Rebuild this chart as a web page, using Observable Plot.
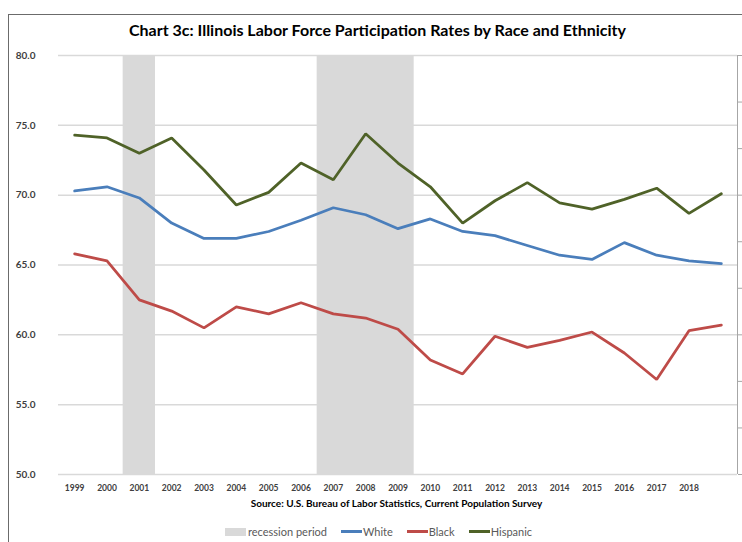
<!DOCTYPE html>
<html>
<head>
<meta charset="utf-8">
<script src="https://cdn.jsdelivr.net/npm/d3@7"></script>
<script src="https://cdn.jsdelivr.net/npm/@observablehq/plot@0.6"></script>
<style>
  html, body { margin: 0; padding: 0; background: #fff; }
  #wrap { position: relative; width: 742px; height: 542px; overflow: hidden; font-family: Lato, "Open Sans", sans-serif; }
  #frame { position: absolute; left: 8px; top: 14px; width: 800px; height: 600px; border-left: 1px solid #6b6b6b; border-top: 1px solid #6b6b6b; }
  #title { position: absolute; left: 0; width: 755px; top: 20px; text-align: center; font-weight: 700; font-size: 16px; color: #000; white-space: nowrap; }
  #chart { position: absolute; left: 0; top: 0; }
  #source { position: absolute; left: 0; width: 793px; top: 497px; text-align: center; font-weight: 700; font-size: 10px; color: #000; white-space: nowrap; }
  #legend { position: absolute; left: 225px; top: 525px; display: flex; align-items: center; font-size: 11px; color: #595959; white-space: nowrap; }
  .sw { display: inline-block; width: 21px; height: 8px; background: #d9d9d9; margin-right: 2px; }
  .ln { display: inline-block; width: 21px; height: 2.5px; margin-right: 1px; }
  .it { display: inline-flex; align-items: center; margin-right: 14px; }
</style>
</head>
<body>
<div id="wrap">
  <div id="frame"></div>
  <div id="chart"></div>
  <div id="title">Chart 3c: Illinois Labor Force Participation Rates by Race and Ethnicity</div>
  <div id="source">Source: U.S. Bureau of Labor Statistics, Current Population Survey</div>
  <div id="legend"></div>
</div>
<script>
// ---- data ----
const years = [1999, 2000, 2001, 2002, 2003, 2004, 2005, 2006, 2007, 2008, 2009,
               2010, 2011, 2012, 2013, 2014, 2015, 2016, 2017, 2018, 2019];
const white    = [70.3, 70.6, 69.8, 68.0, 66.9, 66.9, 67.4, 68.2, 69.1, 68.6, 67.6,
                  68.3, 67.4, 67.1, 66.4, 65.7, 65.4, 66.6, 65.7, 65.3, 65.1];
const black    = [65.8, 65.3, 62.5, 61.7, 60.5, 62.0, 61.5, 62.3, 61.5, 61.2, 60.4,
                  58.2, 57.2, 59.9, 59.1, 59.6, 60.2, 58.7, 56.8, 60.3, 60.7];
const hispanic = [74.3, 74.1, 73.0, 74.1, 71.8, 69.3, 70.2, 72.3, 71.1, 74.4, 72.3,
                  70.6, 68.0, 69.6, 70.9, 69.45, 69.0, 69.7, 70.5, 68.7, 70.1];
const seriesNames = ["White", "Black", "Hispanic"];
const seriesColors = ["#4a7ebb", "#be4b48", "#4f6228"];
const xTickLabels = [1999, 2000, 2001, 2002, 2003, 2004, 2005, 2006, 2007, 2008, 2009,
                     2010, 2011, 2012, 2013, 2014, 2015, 2016, 2017, 2018];
const yTicks = [50, 55, 60, 65, 70, 75, 80];
const recessionStart = [2001, 2007];
const recessionEnd   = [2001, 2009];
// secondary (right) axis for the recession bars: 0 .. 0.9 in steps of 0.1
const rightTicks = [0, 0.1, 0.2, 0.3, 0.4, 0.5, 0.6, 0.7, 0.8, 0.9];
const rightDomain = [0, 0.9];

// ---- build tables ----
const valuesBySeries = [white, black, hispanic];
const rows = [];
seriesNames.forEach((s, i) => years.forEach((yr, j) => rows.push({series: s, year: yr, value: valuesBySeries[i][j]})));
const recessions = recessionStart.map((s, i) => ({start: s, end: recessionEnd[i]}));
const yMin = yTicks[0], yMax = yTicks[yTicks.length - 1];
const rightMapped = rightTicks.map(t => yMin + (t - rightDomain[0]) / (rightDomain[1] - rightDomain[0]) * (yMax - yMin));

const chart = Plot.plot({
  width: 742,
  height: 500,
  marginLeft: 58,
  marginRight: 5,
  marginTop: 55,
  marginBottom: 26,
  x: {domain: [years[0] - 0.5, years[years.length - 1] + 0.5], axis: null},
  y: {domain: [yMin, yMax], axis: null},
  color: {domain: seriesNames, range: seriesColors},
  style: {fontFamily: "Lato, sans-serif", overflow: "visible", background: "transparent"},
  marks: [
    Plot.rect(recessions, {x1: d => d.start - 0.5, x2: d => d.end + 0.5, y1: yMin, y2: yMax, fill: "#d9d9d9"}),
    Plot.ruleY(yTicks, {stroke: "#d9d9d9", strokeWidth: 1.5}),
    Plot.ruleX([years[years.length - 1] + 0.5], {stroke: "#a6a6a6", strokeWidth: 1}),
    Plot.axisY({anchor: "right", ticks: rightMapped, tickFormat: () => "", tickSize: 4, stroke: "#a6a6a6", label: null}),
    Plot.axisY({anchor: "left", ticks: yTicks, tickFormat: d => d.toFixed(1), tickSize: 0, tickPadding: 23,
                fontSize: 10, fontWeight: 700, fill: "#404040", label: null}),
    Plot.axisX({ticks: xTickLabels, tickFormat: d => String(d), tickSize: 0, tickPadding: 10,
                fontSize: 8.5, fontWeight: 700, fill: "#404040", label: null}),
    Plot.line(rows, {x: "year", y: "value", z: "series", stroke: "series", strokeWidth: 2.75, strokeLinejoin: "miter"})
  ]
});
document.getElementById("chart").appendChild(chart);

// legend
const leg = document.getElementById("legend");
const r = document.createElement("span"); r.className = "it";
r.innerHTML = '<span class="sw"></span>recession period';
leg.appendChild(r);
seriesNames.forEach((s, i) => {
  const it = document.createElement("span"); it.className = "it";
  it.innerHTML = `<span class="ln" style="background:${seriesColors[i]}"></span>${s}`;
  leg.appendChild(it);
});
</script>
</body>
</html>
